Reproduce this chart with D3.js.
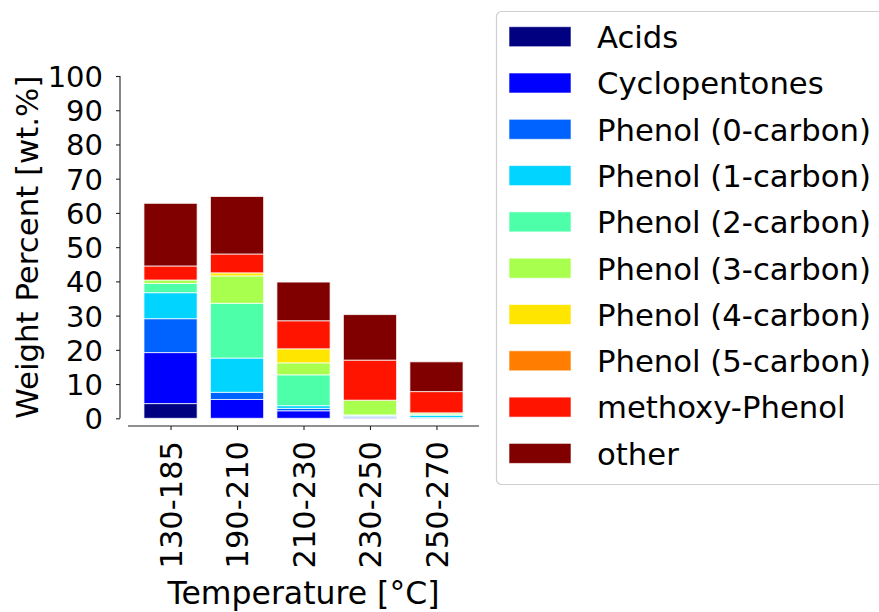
<!DOCTYPE html>
<html>
<head>
<meta charset="utf-8">
<script src="https://cdn.jsdelivr.net/npm/d3@7"></script>
<style>
  html, body { margin: 0; padding: 0; background: #fff; }
  svg { display: block; }
  text { font-family: "DejaVu Sans", sans-serif; fill: #000; }
</style>
</head>
<body>
<svg id="chart" width="879" height="612"></svg>
<script>
const categories = ["130-185", "190-210", "210-230", "230-250", "250-270"];
const seriesNames = ["Acids", "Cyclopentones", "Phenol (0-carbon)", "Phenol (1-carbon)", "Phenol (2-carbon)",
  "Phenol (3-carbon)", "Phenol (4-carbon)", "Phenol (5-carbon)", "methoxy-Phenol", "other"];
const acids         = [4.3, 0.0, 0.0, 0.0, 0.0];
const cyclopentones = [14.9, 5.5, 2.2, 0.3, 0.0];
const phenol0       = [9.9, 2.1, 0.7, 0.3, 0.2];
const phenol1       = [7.6, 10.0, 0.8, 0.2, 0.7];
const phenol2       = [2.7, 16.0, 9.0, 0.2, 0.3];
const phenol3       = [1.0, 8.0, 3.5, 4.3, 0.4];
const phenol4       = [0.0, 0.9, 4.1, 0.0, 0.0];
const phenol5       = [0.0, 0.0, 0.0, 0.0, 0.0];
const methoxyPhenol = [4.1, 5.5, 8.2, 11.7, 6.2];
const other         = [18.3, 16.8, 11.3, 13.3, 8.7];
const yTicks = [0, 10, 20, 30, 40, 50, 60, 70, 80, 90, 100];
const colors = ["#000080", "#0000ff", "#0063ff", "#00d4ff", "#4effa9", "#a9ff4e", "#ffe500", "#ff7d00", "#ff1400", "#800000"];

const seriesValues = [acids, cyclopentones, phenol0, phenol1, phenol2, phenol3, phenol4, phenol5, methoxyPhenol, other];
const rows = categories.map((c, i) => {
  const r = { cat: c, idx: i };
  seriesNames.forEach((s, j) => r[s] = seriesValues[j][i]);
  return r;
});
const stacked = d3.stack().keys(seriesNames)(rows);

const svg = d3.select("#chart");
const x = d3.scaleLinear().domain([-0.64, 4.64]).range([128, 479]);
const y = d3.scaleLinear().domain([0, 100]).range([418.3, 76]);
const color = d3.scaleOrdinal().domain(seriesNames).range(colors);
const barW = x(0.8) - x(0);

// bars
svg.append("g").selectAll("g").data(stacked).join("g")
  .attr("fill", d => color(d.key))
  .selectAll("rect").data(d => d).join("rect")
  .attr("x", d => x(d.data.idx) - barW / 2)
  .attr("width", barW)
  .attr("y", d => y(d[1]))
  .attr("height", d => Math.max(0, y(d[0]) - y(d[1])))
  .attr("stroke", "#fff")
  .attr("stroke-opacity", 0.75)
  .attr("stroke-width", 1);

// y axis (offset left)
const yAxis = d3.axisLeft(y).tickValues(yTicks).tickSize(4).tickPadding(13).tickFormat(d3.format("d"));
const gy = svg.append("g").attr("transform", "translate(120,0)").call(yAxis);
gy.select(".domain").attr("d", `M0,${y(0)}V${y(100)}`).attr("stroke", "#222").attr("stroke-width", 1.1);
gy.selectAll(".tick line").attr("stroke", "#222").attr("stroke-width", 1.1);
gy.selectAll(".tick text").style("font-size", "29px").style("font-family", "DejaVu Sans").attr("fill", "#000").attr("dy", "0.36em");

// x axis (offset down)
const xAxis = d3.axisBottom(x).tickValues(d3.range(categories.length)).tickSize(4).tickFormat(i => categories[i]);
const gx = svg.append("g").attr("transform", "translate(0,426)").call(xAxis);
gx.select(".domain").attr("d", `M${x(-0.64)},0H${x(4.64)}`).attr("stroke", "#222").attr("stroke-width", 1.1);
gx.selectAll(".tick line").attr("stroke", "#222").attr("stroke-width", 1.1);
gx.selectAll(".tick text")
  .style("font-size", "30.5px").style("font-family", "DejaVu Sans").attr("fill", "#000")
  .attr("text-anchor", "end")
  .attr("transform", "rotate(-90)")
  .attr("x", -15).attr("y", 0).attr("dy", "0.35em");

// axis titles
svg.append("text").attr("x", (x(-0.64) + x(4.64)) / 2).attr("y", 604)
  .attr("text-anchor", "middle").style("font-size", "31.5px").text("Temperature [°C]");
svg.append("text").attr("transform", `translate(38,${(y(0) + y(100)) / 2}) rotate(-90)`)
  .attr("text-anchor", "middle").style("font-size", "30.8px").text("Weight Percent [wt.%]");

// legend
const lg = svg.append("g");
lg.append("rect").attr("x", 496.5).attr("y", 11.5).attr("width", 420).attr("height", 473)
  .attr("rx", 5).attr("fill", "#fff").attr("stroke", "#d0d0d0").attr("stroke-width", 1.2);
const items = lg.selectAll("g.item").data(seriesNames).join("g").attr("class", "item")
  .attr("transform", (d, i) => `translate(0,${36.7 + i * 46.3})`);
items.append("rect").attr("x", 509).attr("y", -10).attr("width", 62).attr("height", 20)
  .attr("fill", d => color(d)).attr("stroke", "#fff").attr("stroke-opacity", 0.6).attr("stroke-width", 1);
items.append("text").attr("x", 597).attr("y", 0).attr("dy", "0.37em")
  .style("font-size", "30.7px").text(d => d);
</script>
</body>
</html>
